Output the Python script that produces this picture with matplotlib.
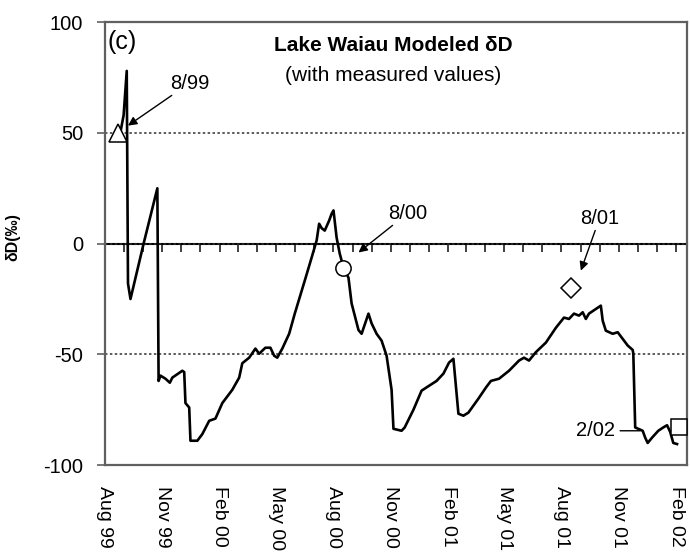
import matplotlib
matplotlib.use('Agg')
import matplotlib.pyplot as plt
import matplotlib.dates as mdates
import pandas as pd

plt.rcParams['font.family'] = ['Liberation Sans', 'DejaVu Sans']

# ---------------- data (days since 1 Aug 1999, modeled dD in permil) -------------
base_date = '1999-08-01'
model_days = [24, 30, 35, 37, 41, 62, 84, 86, 89, 97, 104, 108, 124, 127, 129, 135,
              137, 148, 156, 167, 177, 188, 204, 215, 220, 231, 241, 247, 257, 265,
              271, 276, 284, 295, 304, 320, 331, 339, 343, 347, 352, 359, 363, 366,
              371, 376, 382, 390, 395, 406, 411, 422, 427, 435, 443, 451, 459, 462,
              475, 480, 494, 507, 520, 531, 542, 551, 558, 566, 574, 582, 598, 610,
              618, 631, 647, 663, 671, 679, 690, 706, 722, 735, 743, 751, 759, 765,
              770, 775, 794, 797, 802, 813, 821, 829, 837, 845, 846, 849, 861, 865,
              869, 876, 886, 894, 900, 905, 910, 916]
model_dD = [49, 58, 78, -18, -25, 0, 25, -62, -59.6, -61, -62.8, -60.5, -57.4, -58, -72, -74,
            -89, -89, -86, -80, -79, -72, -66, -60.5, -54, -51.5, -47.4, -49.7, -47, -47,
            -50.6, -51.5, -47.4, -40.7, -31.6, -16.7, -6.3, 1.4, 9, 7, 5.9, 10.4, 13.5, 15,
            2.7, -4.5, -10.8, -15.4, -27, -39, -40.7, -31.6, -36, -40.7, -43.8, -50.6, -66, -83.6,
            -84.5, -83, -75, -66.4, -64, -62, -58.7, -53.7, -52, -76.8, -77.7, -76.3, -70, -65,
            -62, -61, -57.4, -52.8, -51.5, -52.8, -49, -44.7, -38, -33.4, -34, -31.6, -32.5, -31,
            -34, -31.6, -28, -34.8, -39.3, -40.7, -40, -43, -46, -48, -49.7, -83, -84.5, -87.6,
            -90, -87.6, -84.5, -83, -82, -85, -90, -90.5]

meas_labels = ['8/99', '8/00', '8/01', '2/02']
meas_days = [21, 382, 746, 919]
meas_dD = [50, -11, -20, -83]
meas_markers = ['^', 'o', 'D', 's']

tick_months = ['1999-08-01', '1999-11-01', '2000-02-01', '2000-05-01', '2000-08-01',
               '2000-11-01', '2001-02-01', '2001-05-01', '2001-08-01', '2001-11-01',
               '2002-02-01']
tick_labels = ['Aug 99', 'Nov 99', 'Feb 00', 'May 00', 'Aug 00', 'Nov 00',
               'Feb 01', 'May 01', 'Aug 01', 'Nov 01', 'Feb 02']
y_ticks = [-100, -50, 0, 50, 100]

# ---------------- helpers ----------------
base = pd.Timestamp(base_date)


def dnum(d):
    return mdates.date2num(base + pd.Timedelta(days=d))


x_model = [dnum(d) for d in model_days]
x_meas = [dnum(d) for d in meas_days]

fig = plt.figure(figsize=(6.9, 5.55), dpi=100)
ax = fig.add_axes([0.152, 0.162, 0.8437, 0.798])

spine_col = '#606060'
for s in ax.spines.values():
    s.set_color(spine_col)
    s.set_linewidth(1.6)

ax.plot(x_model, model_dD, color='black', lw=1.9, zorder=3)

msizes = {'^': 13, 'o': 11, 'D': 10, 's': 11}
for xm, ym, mk in zip(x_meas, meas_dD, meas_markers):
    ax.plot([xm], [ym], marker=mk, ms=msizes[mk], mfc='white', mec='black',
            mew=1.1, ls='none', zorder=4, clip_on=False)

ax.set_xlim(dnum(4.8), dnum(932))
ax.set_ylim(-100, 100)

# y axis
ax.set_yticks(y_ticks)
ax.set_yticklabels([str(v) for v in y_ticks])
ax.tick_params(axis='y', direction='out', length=5.5, width=1.2, color=spine_col,
               labelsize=14.5, pad=10)
ax.yaxis.grid(True, linestyle=(0, (1.6, 1.6)), color='#303030', lw=1.1)
ax.set_axisbelow(True)
ax.set_ylabel('δD(‰)', fontsize=11.5, fontweight='bold')
ax.yaxis.set_label_coords(-0.145, 0.515)

# x axis labels at bottom
ax.set_xticks([mdates.date2num(pd.Timestamp(t)) for t in tick_months])
ax.set_xticklabels(tick_labels, rotation=-90, ha='center', va='top')
ax.tick_params(axis='x', length=0, labelsize=14, pad=15)

# zero line with monthly ticks
sec = ax.secondary_xaxis(0.5)
months = pd.date_range('1999-08-01', '2002-02-01', freq='MS')
sec.set_xticks([mdates.date2num(m) for m in months])
sec.set_xticklabels([])
sec.spines['top'].set_color('black')
sec.spines['top'].set_linewidth(1.5)
sec.spines['bottom'].set_visible(False)
sec.tick_params(axis='x', direction='in', length=6, width=1.2, color='#202020')

# annotations
fs_ann = 14.5
arrow = dict(arrowstyle='-|>', color='black', lw=1.0, mutation_scale=13,
             shrinkA=0, shrinkB=0)
ax.annotate(meas_labels[0], xy=(dnum(37), 53.3), xytext=(dnum(104), 68.2),
            textcoords='data', arrowprops=arrow, fontsize=fs_ann, ha='left', va='bottom')
ax.annotate(meas_labels[1], xy=(dnum(406), -4), xytext=(dnum(454), 9.5),
            arrowprops=arrow, fontsize=fs_ann, ha='left', va='bottom')
ax.annotate(meas_labels[2], xy=(dnum(762), -12.2), xytext=(dnum(792), 7.2),
            arrowprops=arrow, fontsize=fs_ann, ha='center', va='bottom')
ax.annotate(meas_labels[3], xy=(dnum(857), -84.5), xytext=(dnum(816), -84.5),
            arrowprops=dict(arrowstyle='-', color='black', lw=1.0, shrinkA=2, shrinkB=0),
            fontsize=fs_ann, ha='right', va='center')

# titles
ax.text(0.495, 0.948, 'Lake Waiau Modeled δD', transform=ax.transAxes,
        ha='center', va='center', fontsize=15, fontweight='bold')
ax.text(0.495, 0.880, '(with measured values)', transform=ax.transAxes,
        ha='center', va='center', fontsize=15)
ax.text(0.004, 0.955, '(c)', transform=ax.transAxes, ha='left', va='center',
        fontsize=18)

fig.savefig('out.png', dpi=100)
